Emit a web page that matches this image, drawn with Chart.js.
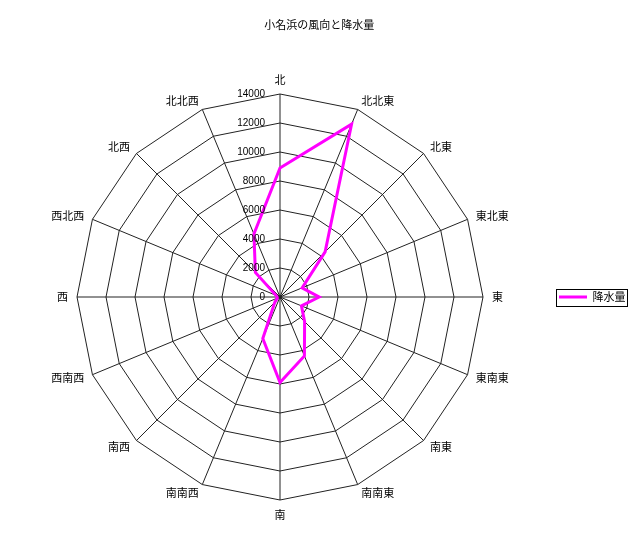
<!DOCTYPE html>
<html lang="ja">
<head>
<meta charset="utf-8">
<title>小名浜の風向と降水量</title>
<script src="https://cdn.jsdelivr.net/npm/chart.js@4/dist/chart.umd.min.js"></script>
<style>
    html, body { margin: 0; padding: 0; background: #fff; }
    canvas { display: block; }
</style>
</head>
<body>
<canvas id="chart" width="640" height="552"></canvas>
<script>
(function () {
    'use strict';

    // 16 wind directions, clockwise from north
    var directions = [
        '北', '北北東', '北東', '東北東', '東', '東南東', '南東', '南南東',
        '南', '南南西', '南西', '西南西', '西', '西北西', '北西', '北北西'
    ];

    var rainfall = [
        8900, 12900, 4400, 1650, 2700, 1600, 2400, 4400,
        5900, 3100, 500, 200, 200, 300, 2400, 4700
    ];

    var tickValues = [0, 2000, 4000, 6000, 8000, 10000, 12000, 14000];

    var cjkFont = '"Noto Sans CJK JP", "Noto Sans", sans-serif',
        numFont = '"Liberation Sans", Arial, sans-serif',

        // radial tick labels sit to the left of the north spoke, right aligned
        tickLabelPlugin = {
            id: 'tickLabels',
            afterDatasetsDraw: function (chart) {
                var scale = chart.scales.r,
                    ctx = chart.ctx;

                ctx.save();
                ctx.font = '10px ' + numFont;
                ctx.fillStyle = '#000';
                ctx.textAlign = 'right';
                ctx.textBaseline = 'middle';
                scale.ticks.forEach(function (tick) {
                    var y = scale.yCenter - scale.getDistanceFromCenterForValue(tick.value);
                    ctx.fillText(String(tick.value), scale.xCenter - 15, y);
                });
                ctx.restore();
            }
        },

        // direction labels: vertically centred beside each spoke end,
        // only the due north / south ones sit above / below it
        pointLabelPlugin = {
            id: 'directionLabels',
            afterDraw: function (chart) {
                var scale = chart.scales.r,
                    ctx = chart.ctx,
                    gap = 9;

                ctx.save();
                ctx.font = '11px ' + cjkFont;
                ctx.fillStyle = '#000';
                scale.getLabels().forEach(function (label, i) {
                    var angle = scale.getIndexAngle(i),
                        s = Math.sin(angle),
                        c = Math.cos(angle),
                        pos = scale.getPointPosition(i, scale.drawingArea + gap);

                    if (Math.abs(s) < 0.01) {
                        ctx.textAlign = 'center';
                        ctx.textBaseline = c > 0 ? 'bottom' : 'top';
                    } else {
                        ctx.textAlign = s > 0 ? 'left' : 'right';
                        ctx.textBaseline = 'middle';
                    }
                    ctx.fillText(label, pos.x, pos.y);
                });
                ctx.restore();
            }
        },

        // the legend gets a thin frame round its single item
        legendFramePlugin = {
            id: 'legendFrame',
            afterDraw: function (chart) {
                var boxes = chart.legend && chart.legend.legendHitBoxes,
                    ctx = chart.ctx,
                    hb, cy;

                if (!boxes || !boxes.length) { return; }

                hb = boxes[0];
                cy = hb.top + hb.height / 2;

                ctx.save();
                ctx.strokeStyle = '#000';
                ctx.lineWidth = 1;
                ctx.strokeRect(Math.round(hb.left - 3) + 0.5, Math.round(cy - 8.5) + 0.5,
                    Math.round(hb.width + 5), 17);
                ctx.restore();
            }
        };

    new Chart(document.getElementById('chart'), {
        type: 'radar',
        data: {
            labels: directions,
            datasets: [{
                label: '降水量',
                data: rainfall,
                borderColor: '#ff00ff',
                backgroundColor: '#ff00ff',
                borderWidth: 3,
                pointRadius: 0,
                pointHoverRadius: 0,
                fill: false,
                tension: 0
            }]
        },
        options: {
            responsive: false,
            animation: false,
            layout: {
                padding: { left: 3, right: 4.5, top: 0, bottom: 52 }
            },
            scales: {
                r: {
                    min: tickValues[0],
                    max: tickValues[tickValues.length - 1],
                    ticks: {
                        stepSize: tickValues[1] - tickValues[0],
                        display: false
                    },
                    grid: {
                        circular: false,
                        color: '#222',
                        lineWidth: 1
                    },
                    angleLines: {
                        color: '#222',
                        lineWidth: 1
                    },
                    pointLabels: {
                        display: false
                    }
                }
            },
            plugins: {
                title: {
                    display: true,
                    text: '小名浜の風向と降水量',
                    color: '#000',
                    font: { family: cjkFont, size: 11, weight: 'normal' },
                    padding: { top: 18.4, bottom: 62.4 }
                },
                legend: {
                    position: 'right',
                    fullSize: false,
                    labels: {
                        color: '#000',
                        font: { family: cjkFont, size: 11 },
                        usePointStyle: true,
                        pointStyle: 'line',
                        pointStyleWidth: 28,
                        padding: 2
                    }
                },
                tooltip: { enabled: false }
            }
        },
        plugins: [tickLabelPlugin, pointLabelPlugin, legendFramePlugin]
    });
}());
</script>
</body>
</html>
